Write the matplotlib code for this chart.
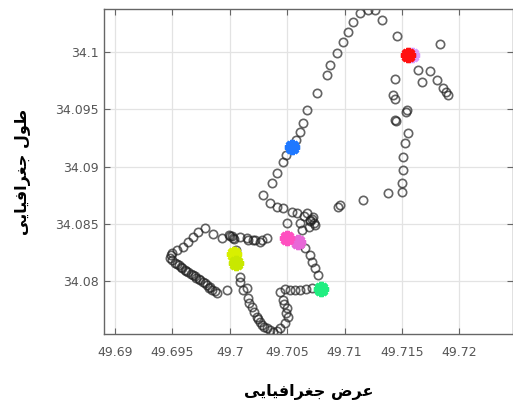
import matplotlib
matplotlib.use("Agg")
import matplotlib.pyplot as plt
import numpy as np

# track points (longitude / latitude)
lon = np.array([
    49.70263, 49.70202, 49.70150, 49.70089, 49.70028, 49.70002, 49.69932, 49.69854, 49.69784,
    49.69723, 49.69679, 49.69636, 49.69592, 49.69540, 49.69496, 49.69488, 49.69479, 49.69523,
    49.69557, 49.69584, 49.69610, 49.69636, 49.69679, 49.69706, 49.69740, 49.69766, 49.69801,
    49.69819, 49.69845, 49.69888, 49.69976,
    49.69500, 49.69540, 49.69575, 49.69620, 49.69660, 49.69695, 49.69728, 49.69780, 49.69830,
    49.69870, 49.70015, 49.70040, 49.69995,
    49.70054, 49.70089, 49.70089, 49.70115, 49.70150, 49.70158, 49.70193, 49.70237, 49.70263,
    49.70280, 49.70324, 49.70350, 49.70376, 49.70411, 49.70437, 49.70481, 49.70507, 49.70498,
    49.70463, 49.70437, 49.70481, 49.70524, 49.70568, 49.70611, 49.70664, 49.70716,
    49.70170, 49.70215, 49.70250, 49.70300, 49.70490, 49.70470,
    49.70768, 49.70742, 49.70716, 49.70698, 49.70655, 49.70611,
    49.70324, 49.70280, 49.70219, 49.70158,
    49.70698, 49.70725, 49.70672, 49.70611, 49.70742, 49.70629, 49.70498, 49.70700, 49.70715,
    49.70650, 49.70730, 49.70690,
    49.70289, 49.70350, 49.70411, 49.70463, 49.70542, 49.70585, 49.70942,
    49.70367, 49.70411, 49.70463, 49.70489, 49.70577, 49.70611, 49.70637, 49.70672, 49.70759,
    49.70847, 49.70873, 49.70934, 49.70986, 49.71029, 49.71073, 49.71134, 49.71204, 49.71265,
    49.71326, 49.71456, 49.71831,
    49.71639, 49.71674, 49.71744, 49.71805, 49.71857, 49.71883, 49.71900,
    49.71439, 49.71421, 49.71439, 49.71543, 49.71535, 49.71439, 49.71450, 49.71552, 49.71526,
    49.71508, 49.71508, 49.71500, 49.71500, 49.71378, 49.71160, 49.70960,
])
lat = np.array([
    34.08341, 34.08359, 34.08376, 34.08385, 34.08376, 34.08394, 34.08376, 34.08411, 34.08464,
    34.08429, 34.08385, 34.08341, 34.08298, 34.08271, 34.08245, 34.08228, 34.08202, 34.08158,
    34.08141, 34.08114, 34.08097, 34.08079, 34.08053, 34.08027, 34.08010, 34.07992, 34.07966,
    34.07940, 34.07922, 34.07896, 34.07922,
    34.08185, 34.08150, 34.08125, 34.08090, 34.08065, 34.08040, 34.08018, 34.07980, 34.07950,
    34.07910, 34.08390, 34.08370, 34.08400,
    34.08271, 34.08036, 34.07992, 34.07922, 34.07940, 34.07852, 34.07774, 34.07687, 34.07643,
    34.07617, 34.07591, 34.07573, 34.07556, 34.07564, 34.07591, 34.07634, 34.07687, 34.07765,
    34.07835, 34.07905, 34.07931, 34.07922, 34.07922, 34.07922, 34.07931, 34.07940,
    34.07810, 34.07730, 34.07665, 34.07600, 34.07720, 34.07800,
    34.08053, 34.08114, 34.08167, 34.08228, 34.08289, 34.08324,
    34.08376, 34.08359, 34.08359, 34.08359,
    34.08533, 34.08560, 34.08594, 34.08507, 34.08490, 34.08446, 34.08507, 34.08520, 34.08545,
    34.08570, 34.08510, 34.08475,
    34.08752, 34.08682, 34.08647, 34.08638, 34.08603, 34.08594, 34.08647,
    34.08856, 34.08944, 34.09040, 34.09101, 34.09232, 34.09302, 34.09380, 34.09494, 34.09642,
    34.09799, 34.09887, 34.09991, 34.10087, 34.10175, 34.10262, 34.10340, 34.10367, 34.10367,
    34.10279, 34.10140, 34.10070,
    34.09843, 34.09738, 34.09834, 34.09756, 34.09686, 34.09651, 34.09625,
    34.09764, 34.09625, 34.09590, 34.09494, 34.09480, 34.09406, 34.09395, 34.09293, 34.09206,
    34.09083, 34.08970, 34.08856, 34.08778, 34.08769, 34.08708, 34.08664,
])

# coloured event markers
ev_lon = [49.71552, 49.71585, 49.70542, 49.70040, 49.70050, 49.70498, 49.70594, 49.70794]
ev_lat = [34.09974, 34.09974, 34.09171, 34.08240, 34.08160, 34.08376, 34.08341, 34.07931]
ev_col = ["#ff1010", "#d8a0ff", "#1f78ff", "#d8f000", "#c8e800", "#ff50c0", "#e868d8", "#20ee80"]

xlabel = "\ufbfd\ufbfe\ufe8e\ufbff\ufed3\ufe8d\ufeae\ufed0\ufe9f \ufebd\ufeae\ufecb"
ylabel = "\ufbfd\ufbfe\ufe8e\ufbff\ufed3\ufe8d\ufeae\ufed0\ufe9f \ufedd\ufeee\ufec3"

fig = plt.figure(figsize=(5.13, 4.09), dpi=100)
ax = fig.add_axes([0.2027, 0.1834, 0.7973, 0.7946])

ax.plot(lon, lat, "o", mfc="none", mec="#222222", mew=1.2, ms=6, alpha=0.7)
# violet first so red sits on top
order = [1, 0, 2, 3, 4, 6, 5, 7]
for i in order:
    c = ev_col[i]
    ax.plot(ev_lon[i], ev_lat[i], marker=(8, 2, 0), ms=11, mec=c, mew=3, ls="none")
    ax.plot(ev_lon[i], ev_lat[i], marker="o", ms=7, mfc=c, mec=c, ls="none")

ax.set_xlim(49.68904, 49.72467)
ax.set_ylim(34.07537, 34.10376)
ax.set_xticks([49.69, 49.695, 49.7, 49.705, 49.71, 49.715, 49.72])
ax.set_xticklabels(["49.69", "49.695", "49.7", "49.705", "49.71", "49.715", "49.72"])
ax.set_yticks([34.08, 34.085, 34.09, 34.095, 34.1])
ax.set_yticklabels(["34.08", "34.085", "34.09", "34.095", "34.1"])

ax.grid(True, color="#e3e3e3", lw=0.9)
ax.set_axisbelow(True)
ax.tick_params(direction="in", top=True, right=True, length=4, color="#666666",
               labelsize=9, labelcolor="#555555")
ax.tick_params(axis="x", pad=9)
ax.tick_params(axis="y", pad=4)
for s in ax.spines.values():
    s.set_color("#666666")
    s.set_linewidth(1.0)

ax.set_xlabel(xlabel, fontsize=11.5, fontweight="bold", family=["DejaVu Sans"], labelpad=18)
ax.set_ylabel(ylabel, fontsize=11.5, fontweight="bold", family=["DejaVu Sans"], labelpad=17)

fig.savefig("out.png", dpi=100)
